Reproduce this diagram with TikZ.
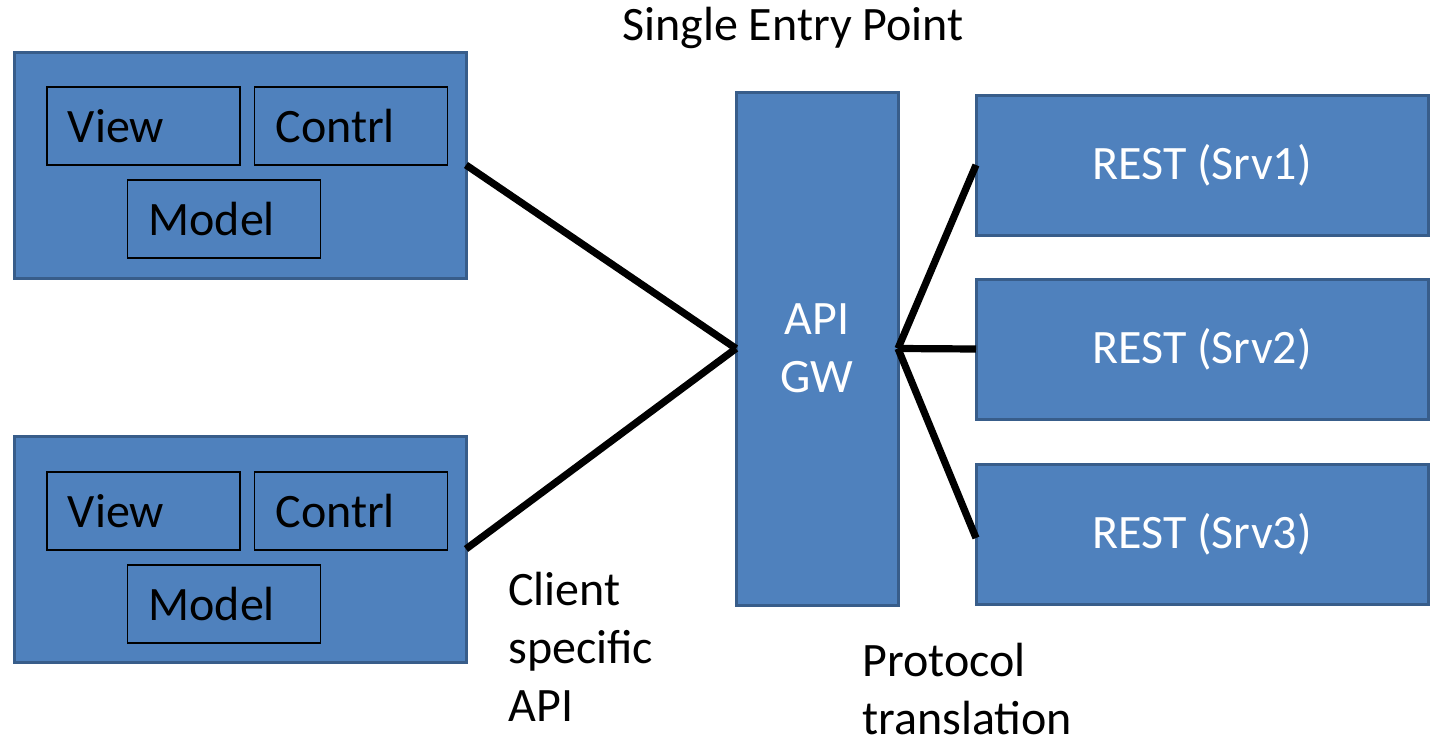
\documentclass[tikz,border=0pt]{standalone}
\usepackage{fontspec}
\setmainfont{Carlito}
\usepackage{tikz}
\definecolor{boxfill}{RGB}{79,129,189}
\definecolor{boxline}{RGB}{56,93,138}
\tikzset{
  bluebox/.style={draw=boxline,fill=boxfill,line width=1.5pt,inner sep=0pt,outer sep=0pt},
  clientbox/.style={bluebox,minimum width=226pt,minimum height=113pt},
  innerbox/.style={draw=black,line width=0.8pt,minimum height=39pt,text width=75.5pt,inner xsep=10.5pt,inner ysep=0pt,outer sep=0pt,align=left},
  restbox/.style={bluebox,minimum width=226pt,minimum height=70pt,text=white},
  conn/.style={line width=3.6pt,black},
  lbl/.style={inner sep=0pt,align=left}
}
\begin{document}
\begin{tikzpicture}[x=0.5pt,y=-0.5pt,font=\fontsize{24}{29}\selectfont]
\useasboundingbox (0,0) rectangle (1432,739);
%clients
\node[clientbox] (client1) at (240,165) {};
\node[innerbox] (view1) at (143.5,126) {View};
\node[innerbox] (contrl1) at (351,126) {Contrl};
\node[innerbox] (model1) at (224,219) {Model};
\node[clientbox] (client2) at (240,549) {};
\node[innerbox] (view2) at (143.5,511) {View};
\node[innerbox] (contrl2) at (351,511) {Contrl};
\node[innerbox] (model2) at (224,604) {Model};
%gateway
\node[bluebox,minimum width=81pt,minimum height=256.5pt,text=white,align=center] (gw) at (817,348.5) {API\\GW};
%services
\node[restbox] (srv1) at (1202,165) {REST (Srv1)};
\node[restbox] (srv2) at (1202,349) {REST (Srv2)};
\node[restbox] (srv3) at (1202,534) {REST (Srv3)};
\draw[conn] (client1.east) -- (gw.west);
\draw[conn] (client2.east) -- (gw.west);
\draw[conn] (gw.east) -- (srv1.west);
\draw[conn] (gw.east) -- (srv2.west);
\draw[conn] (gw.east) -- ([yshift=-2pt]srv3.west);
%labels
\node[lbl,anchor=base] (entry) at (793,40) {Single Entry Point};
\node[lbl,anchor=north west] (clientapi) at (508,572) {Client\\specific\\API};
\node[lbl,anchor=north west] (proto) at (862,643) {Protocol\\translation};
\end{tikzpicture}
\end{document}
